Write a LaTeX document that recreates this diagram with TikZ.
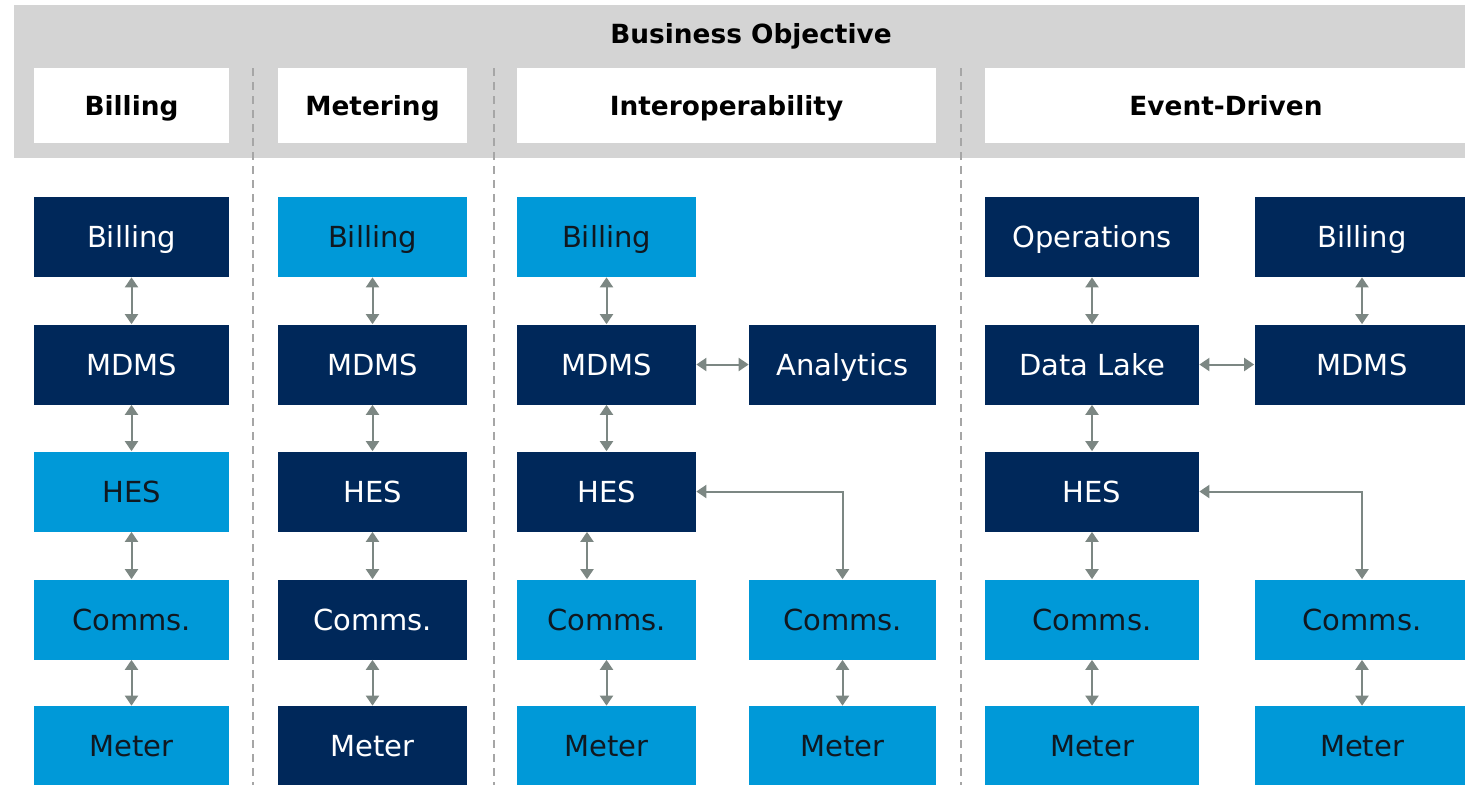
\documentclass[tikz,border=0pt]{standalone}
\usepackage{fontspec}
\setmainfont{DejaVu Sans}
\usetikzlibrary{positioning, arrows.meta, calc}
\definecolor{navy}{HTML}{00285A}
\definecolor{skyblue}{HTML}{0099D8}
\definecolor{bandgray}{HTML}{D4D4D4}
\definecolor{linkgray}{HTML}{7C8783}
\definecolor{inkdark}{HTML}{101820}
\tikzset{
  blk/.style={minimum height=16mm, inner sep=0pt, text height=12pt, text depth=0pt,
    font=\fontsize{16.5}{20}\selectfont},
  dk/.style={blk, fill=navy, text=white},
  lt/.style={blk, fill=skyblue, text=inkdark},
  hdr/.style={fill=white, minimum height=15mm, inner sep=0pt, text height=11pt, text depth=0pt,
    font=\bfseries\fontsize{15}{18}\selectfont},
  link/.style={draw=linkgray, line width=0.4mm,
    {Triangle[width=2.6mm,length=2mm]}-{Triangle[width=2.6mm,length=2mm]}},
}

\begin{document}
\begin{tikzpicture}[x=0.2mm, y=-0.2mm]
    \useasboundingbox (0,0) rectangle (1465,784);
    \clip (0,0) rectangle (1465,784);

    % Objective band
    \fill[bandgray] (14,5) rectangle (1480,158);
    \node[text height=11pt, text depth=0pt, font=\bfseries\fontsize{15}{18}\selectfont]
        (obj) at (751,34) {Business Objective};
    \node[hdr, minimum width=39mm] (hbill) at (131.5,105.5) {Billing};
    \node[hdr, minimum width=37.8mm] (hmeter) at (372.5,105.5) {Metering};
    \node[hdr, minimum width=83.8mm] (hinter) at (726.5,105.5) {Interoperability};
    \node[hdr, minimum width=96.4mm] (hevent) at (1226,105.5) {Event-Driven};

    % Column separators
    \foreach \sx in {253,494,961}
        \draw[gray!70, line width=0.3mm, dash pattern=on 1.6mm off 1.2mm] (\sx,68) -- (\sx,790);

    % Billing column
    \node[dk, minimum width=39mm] (bill1) at (131.5,237) {Billing};
    \node[dk, minimum width=39mm] (mdms1) at (131.5,364.5) {MDMS};
    \node[lt, minimum width=39mm] (hes1) at (131.5,491.5) {HES};
    \node[lt, minimum width=39mm] (com1) at (131.5,619.5) {Comms.};
    \node[lt, minimum width=39mm] (met1) at (131.5,746) {Meter};

    % Metering column
    \node[lt, minimum width=37.8mm] (bill2) at (372.5,237) {Billing};
    \node[dk, minimum width=37.8mm] (mdms2) at (372.5,364.5) {MDMS};
    \node[dk, minimum width=37.8mm] (hes2) at (372.5,491.5) {HES};
    \node[dk, minimum width=37.8mm] (com2) at (372.5,619.5) {Comms.};
    \node[dk, minimum width=37.8mm] (met2) at (372.5,746) {Meter};

    % Interoperability column
    \node[lt, minimum width=35.8mm] (bill3) at (606.5,237) {Billing};
    \node[dk, minimum width=35.8mm] (mdms3) at (606.5,364.5) {MDMS};
    \node[dk, minimum width=37.4mm] (anl3) at (842.5,364.5) {Analytics};
    \node[dk, minimum width=35.8mm] (hes3) at (606.5,491.5) {HES};
    \node[lt, minimum width=35.8mm] (com3a) at (606.5,619.5) {Comms.};
    \node[lt, minimum width=37.4mm] (com3b) at (842.5,619.5) {Comms.};
    \node[lt, minimum width=35.8mm] (met3a) at (606.5,746) {Meter};
    \node[lt, minimum width=37.4mm] (met3b) at (842.5,746) {Meter};

    % Event-driven column
    \node[dk, minimum width=42.8mm] (ops4) at (1092,237) {Operations};
    \node[dk, minimum width=43mm] (bill4) at (1362,237) {Billing};
    \node[dk, minimum width=42.8mm] (lake4) at (1092,364.5) {Data Lake};
    \node[dk, minimum width=43mm] (mdms4) at (1362,364.5) {MDMS};
    \node[dk, minimum width=42.8mm] (hes4) at (1092,491.5) {HES};
    \node[lt, minimum width=42.8mm] (com4a) at (1092,619.5) {Comms.};
    \node[lt, minimum width=43mm] (com4b) at (1362,619.5) {Comms.};
    \node[lt, minimum width=42.8mm] (met4a) at (1092,746) {Meter};
    \node[lt, minimum width=43mm] (met4b) at (1362,746) {Meter};

    % Links
    \draw[link] (bill1) -- (mdms1);
    \draw[link] (mdms1) -- (hes1);
    \draw[link] (hes1) -- (com1);
    \draw[link] (com1) -- (met1);

    \draw[link] (bill2) -- (mdms2);
    \draw[link] (mdms2) -- (hes2);
    \draw[link] (hes2) -- (com2);
    \draw[link] (com2) -- (met2);

    \draw[link] (bill3) -- (mdms3);
    \draw[link] (mdms3) -- (anl3);
    \draw[link] (mdms3) -- (hes3);
    \draw[link] ([xshift=-3.9mm]hes3.south) -- ([xshift=-3.9mm]com3a.north);
    \draw[link] (hes3.east) -| (com3b.north);
    \draw[link] (com3a) -- (met3a);
    \draw[link] (com3b) -- (met3b);

    \draw[link] (ops4) -- (lake4);
    \draw[link] (bill4) -- (mdms4);
    \draw[link] (lake4) -- (mdms4);
    \draw[link] (lake4) -- (hes4);
    \draw[link] (hes4) -- (com4a);
    \draw[link] (hes4.east) -| (com4b.north);
    \draw[link] (com4a) -- (met4a);
    \draw[link] (com4b) -- (met4b);
\end{tikzpicture}
\end{document}
